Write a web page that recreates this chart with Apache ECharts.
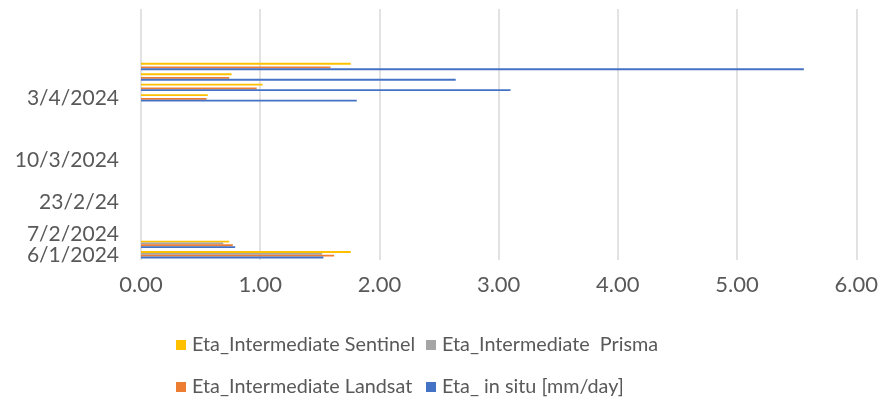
<!DOCTYPE html>
<html>
<head>
<meta charset="utf-8">
<script src="https://cdn.jsdelivr.net/npm/echarts@6/dist/echarts.min.js"></script>
<style>
html,body{margin:0;padding:0;background:#fff;}
#chart{width:881px;height:402px;}
</style>
</head>
<body>
<div id="chart"></div>
<script>
// Category slots (bottom to top); only some carry a visible label
const categories = [
  '6/1/2024', '', '7/2/2024', '', '', '23/2/24', '', '', '', '10/3/2024',
  '', '', '', '', '', '3/4/2024', '', '', '', '',
  '', '', '', ''
];
const xTicks = [0, 1, 2, 3, 4, 5, 6];

const seriesNames = [
  'Eta_Intermediate Sentinel',
  'Eta_Intermediate  Prisma',
  'Eta_Intermediate Landsat',
  'Eta_ in situ [mm/day]'
];

const sentinel = [1.76, 0.74, null, null, null, null, null, null, null, null, null, null, null, null, null, 0.56, 1.02, 0.76, 1.76, null, null, null, null, null];
const prisma   = [1.52, 0.69, null, null, null, null, null, null, null, null, null, null, null, null, null, null, null, null, null, null, null, null, null, null];
const landsat  = [1.62, 0.77, null, null, null, null, null, null, null, null, null, null, null, null, null, 0.55, 0.97, 0.74, 1.59, null, null, null, null, null];
const insitu   = [1.53, 0.79, null, null, null, null, null, null, null, null, null, null, null, null, null, 1.81, 3.10, 2.64, 5.56, null, null, null, null, null];

const colors = ['#FFC000', '#A5A5A5', '#ED7D31', '#4472C4'];
const values = [sentinel, prisma, landsat, insitu];

const FONT = 'Lato, "Noto Sans", sans-serif';
const TXT = '#595959';

// legend slot positions: [left, top]
const legendPos = [[176, 334], [426, 334], [176, 376], [426, 376]];

const chart = echarts.init(document.getElementById('chart'), null, {renderer: 'canvas'});
chart.setOption({
  animation: false,
  backgroundColor: '#ffffff',
  grid: {left: 141, right: 23, top: 9, bottom: 142, containLabel: false},
  xAxis: {
    type: 'value',
    min: xTicks[0],
    max: xTicks[xTicks.length - 1],
    interval: 1,
    axisLine: {show: false},
    axisTick: {show: false},
    axisLabel: {
      margin: 14,
      color: TXT,
      fontFamily: FONT,
      fontSize: 22,
      formatter: v => v.toFixed(2)
    },
    splitLine: {show: true, lineStyle: {color: '#D9D9D9', width: 1.5}}
  },
  yAxis: {
    type: 'category',
    data: categories,
    axisLine: {show: false},
    axisTick: {show: false},
    axisLabel: {
      interval: 0,
      margin: 22,
      color: TXT,
      fontFamily: FONT,
      fontSize: 21
    }
  },
  legend: seriesNames.map((name, i) => ({
    left: legendPos[i][0],
    top: legendPos[i][1],
    padding: 0,
    itemWidth: 10,
    itemHeight: 10,
    itemGap: 0,
    icon: 'rect',
    selectedMode: false,
    data: [{name: name, icon: 'rect'}],
    textStyle: {color: TXT, fontFamily: FONT, fontSize: 19.8, lineHeight: 22, padding: [0, 0, 0, 1]}
  })),
  series: seriesNames.map((name, i) => ({
    name: name,
    type: 'bar',
    data: values[i],
    barGap: '0%',
    barCategoryGap: '30%',
    itemStyle: {color: colors[i]}
  }))
});
</script>
</body>
</html>
